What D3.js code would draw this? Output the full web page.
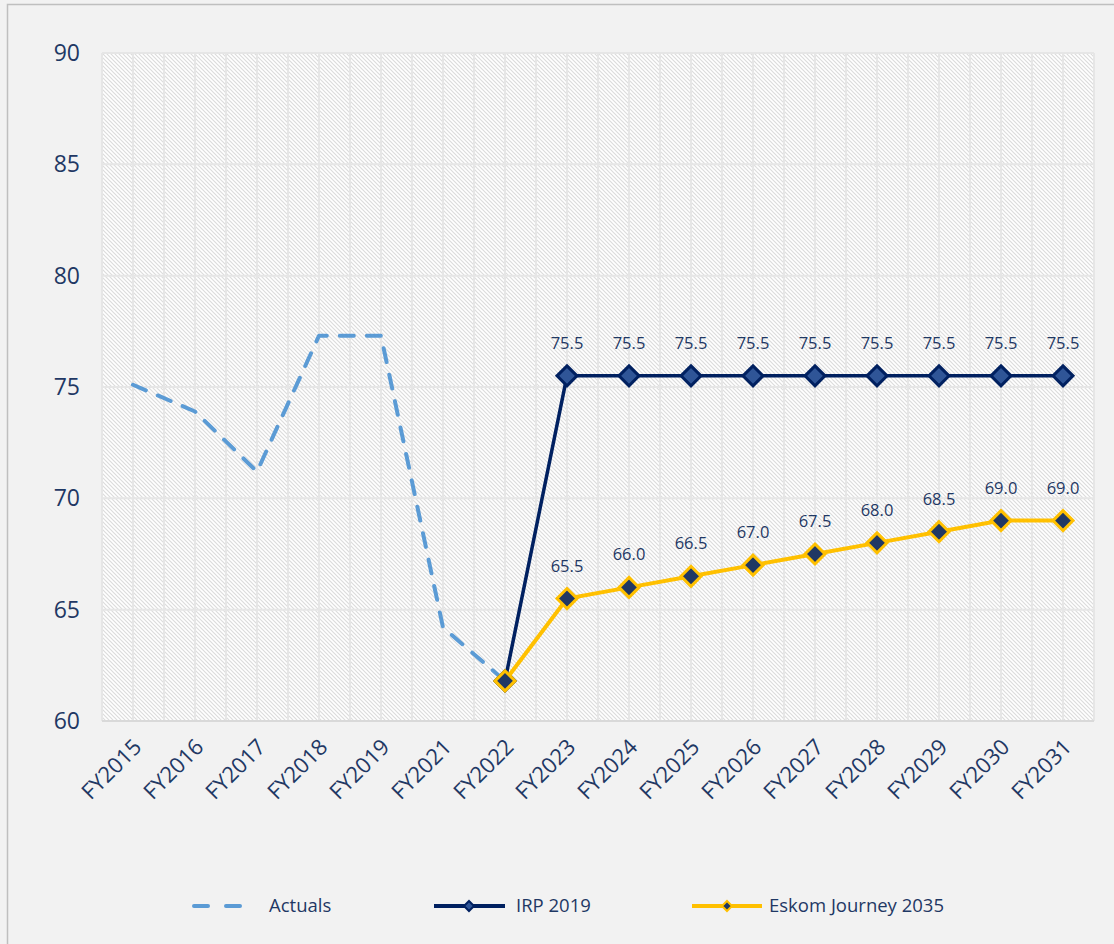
<!DOCTYPE html>
<html>
<head>
<meta charset="utf-8">
<script src="https://cdn.jsdelivr.net/npm/d3@7"></script>
<style>
  body { margin: 0; background: #fff; }
  svg { display: block; font-family: "Open Sans", "Noto Sans", sans-serif; }
</style>
</head>
<body>
<svg id="chart" width="1114" height="944"></svg>
<script>
// categories and series
const categories = ["FY2015", "FY2016", "FY2017", "FY2018", "FY2019", "FY2021", "FY2022", "FY2023",
    "FY2024", "FY2025", "FY2026", "FY2027", "FY2028", "FY2029", "FY2030", "FY2031"];
const actuals = [75.1, 73.9, 71.2, 77.3, 77.3, 64.2, 61.8, null, null, null, null, null, null, null, null, null];
const irp2019 = [null, null, null, null, null, null, 61.8, 75.5, 75.5, 75.5, 75.5, 75.5, 75.5, 75.5, 75.5, 75.5];
const eskom2035 = [null, null, null, null, null, null, 61.8, 65.5, 66.0, 66.5, 67.0, 67.5, 68.0, 68.5, 69.0, 69.0];
const yTicks = [60, 65, 70, 75, 80, 85, 90];

const svg = d3.select("#chart");
const W = 1114, H = 944;
const margin = { left: 102, top: 53 };
const plotW = 992, plotH = 668;

// outer background + border
svg.append("rect").attr("x", 0).attr("y", 0).attr("width", W).attr("height", H).attr("fill", "#f2f2f2");
svg.append("rect").attr("x", 7.5).attr("y", 4.5).attr("width", W).attr("height", H)
    .attr("fill", "none").attr("stroke", "#bfbfbf").attr("stroke-width", 1.5);

// hatch pattern
const defs = svg.append("defs");
const pat = defs.append("pattern").attr("id", "hatch")
    .attr("patternUnits", "userSpaceOnUse").attr("width", 4).attr("height", 4);
pat.append("rect").attr("width", 4).attr("height", 4).attr("fill", "#ffffff");
pat.append("path").attr("d", "M-1,-1 L5,5 M-1,3 L1,5 M3,-1 L5,1")
    .attr("stroke", "#dcdcdc").attr("stroke-width", 1.2);

const g = svg.append("g").attr("transform", `translate(${margin.left},${margin.top})`);

const x = d3.scalePoint().domain(categories).range([0, plotW]).padding(0.5);
const step = x.step();
const y = d3.scaleLinear().domain([60, 90]).range([plotH, 0]);

g.append("rect").attr("width", plotW).attr("height", plotH).attr("fill", "url(#hatch)");

// vertical gridlines at category centres and boundaries
const vLines = [];
categories.forEach(c => { vLines.push(x(c) - step / 2); vLines.push(x(c)); });
vLines.push(plotW);
g.append("g").selectAll("line").data(vLines).join("line")
    .attr("x1", d => d).attr("x2", d => d).attr("y1", 0).attr("y2", plotH)
    .attr("stroke", "#e6e6e6").attr("stroke-width", 2);

// horizontal gridlines
g.append("g").selectAll("line").data(yTicks).join("line")
    .attr("x1", 0).attr("x2", plotW).attr("y1", d => y(d)).attr("y2", d => y(d))
    .attr("stroke", d => d === 60 ? "#d9d9d9" : "#e6e6e6").attr("stroke-width", 2);

// y axis labels
const yAxis = g.append("g").call(d3.axisLeft(y).tickValues(yTicks).tickSize(0).tickPadding(22));
yAxis.select(".domain").remove();
yAxis.selectAll("text").attr("font-size", 23).attr("fill", "#1f3864")
    .attr("font-family", "'Open Sans', sans-serif");

// x axis labels rotated
const xAxis = g.append("g").attr("transform", `translate(0,${plotH})`)
    .call(d3.axisBottom(x).tickSize(0).tickPadding(0));
xAxis.select(".domain").remove();
xAxis.selectAll("text")
    .attr("font-size", 22).attr("fill", "#1f3864")
    .attr("font-family", "'Open Sans', sans-serif")
    .attr("text-anchor", "end").attr("dy", "0.35em")
    .attr("transform", "translate(4,22) rotate(-45)");

const line = d3.line()
    .defined(d => d.v !== null)
    .x(d => x(d.c)).y(d => y(d.v));
const toPts = arr => categories.map((c, i) => ({ c, v: arr[i] }));
const diamondPath = (r) => `M0,${-r}L${r},0L0,${r}L${-r},0Z`;

// Actuals (dashed)
g.append("path").datum(toPts(actuals)).attr("d", line)
    .attr("fill", "none").attr("stroke", "#5b9bd5").attr("stroke-width", 4)
    .attr("stroke-dasharray", "14,13").attr("stroke-linecap", "round").attr("stroke-linejoin", "round");

// IRP 2019
g.append("path").datum(toPts(irp2019)).attr("d", line)
    .attr("fill", "none").attr("stroke", "#002060").attr("stroke-width", 3.5);
g.append("g").selectAll("path").data(toPts(irp2019).filter(d => d.v !== null)).join("path")
    .attr("d", diamondPath(10))
    .attr("transform", d => `translate(${x(d.c)},${y(d.v)})`)
    .attr("fill", "#2f5597").attr("stroke", "#002060").attr("stroke-width", 3);

// Eskom Journey 2035
g.append("path").datum(toPts(eskom2035)).attr("d", line)
    .attr("fill", "none").attr("stroke", "#ffc000").attr("stroke-width", 4);
g.append("g").selectAll("path").data(toPts(eskom2035).filter(d => d.v !== null)).join("path")
    .attr("d", diamondPath(10))
    .attr("transform", d => `translate(${x(d.c)},${y(d.v)})`)
    .attr("fill", "#203864").attr("stroke", "#ffc000").attr("stroke-width", 3);

// data labels (not on FY2022)
const labelData = toPts(irp2019).concat(toPts(eskom2035))
    .filter(d => d.v !== null && d.c !== "FY2022");
g.append("g").selectAll("text").data(labelData).join("text")
    .attr("x", d => x(d.c)).attr("y", d => y(d.v) - 27)
    .attr("text-anchor", "middle").attr("font-size", 16.5).attr("fill", "#1f3864")
    .text(d => d.v.toFixed(1));

// legend
const leg = svg.append("g").attr("transform", "translate(0,906)");
leg.append("line").attr("x1", 194).attr("x2", 245).attr("y1", 0).attr("y2", 0)
    .attr("stroke", "#5b9bd5").attr("stroke-width", 4).attr("stroke-linecap", "round")
    .attr("stroke-dasharray", "14,18");
leg.append("text").attr("x", 269).attr("y", 0).attr("dy", "0.35em").text("Actuals");

leg.append("line").attr("x1", 434).attr("x2", 505).attr("y1", 0).attr("y2", 0)
    .attr("stroke", "#002060").attr("stroke-width", 4);
leg.append("path").attr("d", diamondPath(5)).attr("transform", "translate(469,0)")
    .attr("fill", "#2f5597").attr("stroke", "#002060").attr("stroke-width", 2);
leg.append("text").attr("x", 516).attr("y", 0).attr("dy", "0.35em").text("IRP 2019");

leg.append("line").attr("x1", 692).attr("x2", 762).attr("y1", 0).attr("y2", 0)
    .attr("stroke", "#ffc000").attr("stroke-width", 4);
leg.append("path").attr("d", diamondPath(5)).attr("transform", "translate(727,0)")
    .attr("fill", "#203864").attr("stroke", "#ffc000").attr("stroke-width", 2);
leg.append("text").attr("x", 769).attr("y", 0).attr("dy", "0.35em").text("Eskom Journey 2035");

leg.selectAll("text").attr("font-size", 18.5).attr("fill", "#1f3864");
</script>
</body>
</html>
